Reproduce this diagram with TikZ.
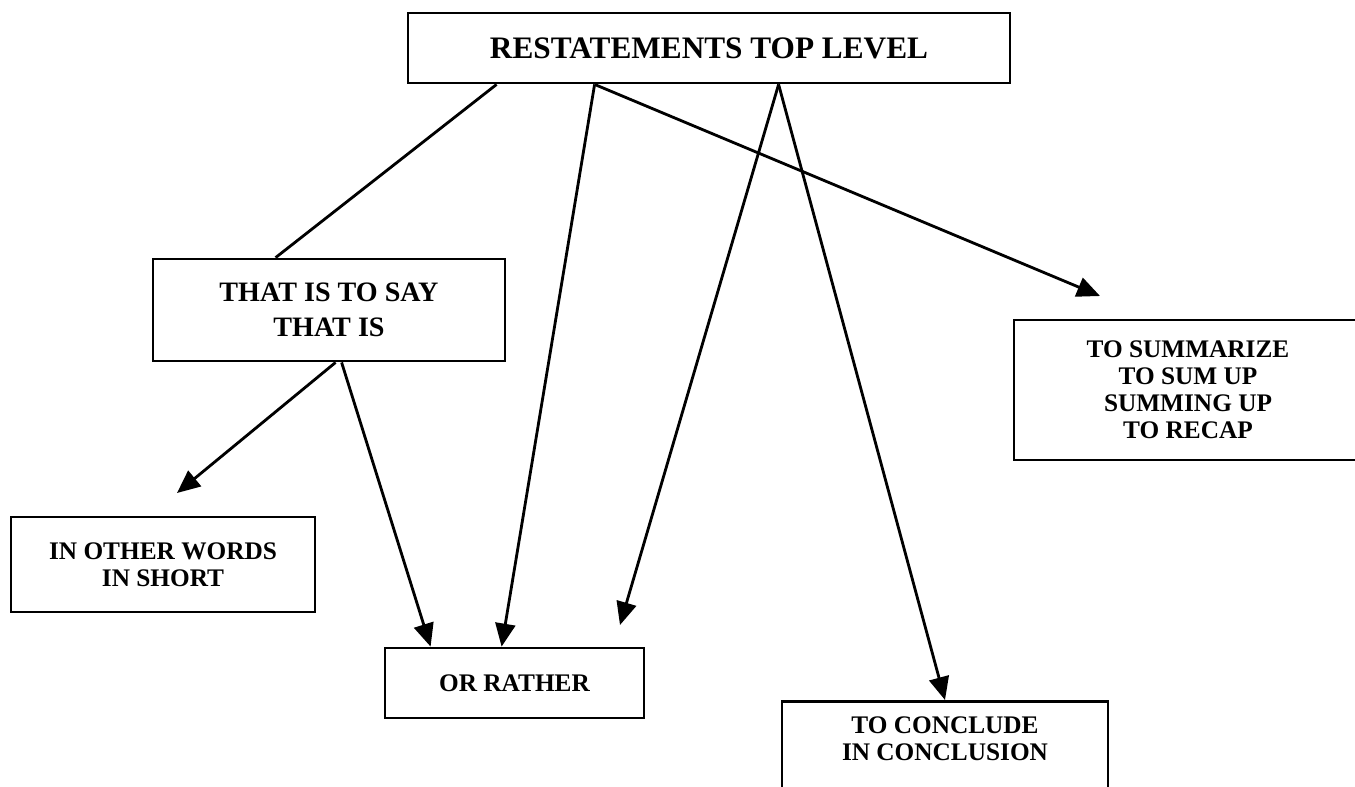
\documentclass[tikz,border=0pt]{standalone}
\usepackage{fontspec}
\setmainfont{Liberation Serif}
\usetikzlibrary{arrows.meta}
\tikzset{
  box/.style={
    rectangle, draw=black, line width=1.6pt, fill=white,
    align=center, inner sep=2pt, font=\bfseries
  },
  topbox/.style={box, font=\bfseries\fontsize{17.8}{21}\selectfont},
  midbox/.style={box, font=\bfseries\fontsize{16}{20}\selectfont},
  lowbox/.style={box, font=\bfseries\fontsize{14.4}{15.4}\selectfont},
  conn/.style={line width=1.6pt, draw=black},
  arrow/.style={conn, -{Triangle[length=4.6mm, width=4mm]}}
}
\begin{document}
\begin{tikzpicture}
  \useasboundingbox (0,0) rectangle (27.1,-15.72);

  \node[topbox, minimum width=12.04cm, minimum height=1.4cm] (top) at (14.18,-0.96) {RESTATEMENTS TOP LEVEL};
  \node[midbox, minimum width=7.04cm, minimum height=2.04cm] (thatis) at (6.58,-6.2) {THAT IS TO SAY\\THAT IS};
  \node[lowbox, minimum width=6.96cm, minimum height=2.8cm] (summ) at (23.76,-7.8) {TO SUMMARIZE\\TO SUM UP\\SUMMING UP\\TO RECAP};
  \node[lowbox, minimum width=6.08cm, minimum height=1.9cm] (other) at (3.26,-11.29) {IN OTHER WORDS\\IN SHORT};
  \node[lowbox, minimum width=5.18cm, minimum height=1.4cm] (rather) at (10.29,-13.66) {OR RATHER};
  \node[lowbox, minimum width=6.52cm, anchor=north, inner ysep=0.3cm, text depth=1.5cm] (concl) at (18.9,-14.0) {TO CONCLUDE\\IN CONCLUSION};

  % free ends of the arrows that stop short of a box
  \coordinate (sumtip) at (22.0,-5.92);
  \coordinate (rathertip) at (12.4,-12.5);
  \coordinate (othertip) at (3.54,-9.86);

  \draw[conn] ([xshift=1.8cm]top.south west) -- ([xshift=2.48cm]thatis.north west);
  \draw[arrow] ([xshift=3.76cm]top.south west) -- ([xshift=2.36cm]rather.north west);
  \draw[arrow] ([xshift=3.76cm]top.south west) -- (sumtip);
  \draw[arrow] ([xshift=7.44cm]top.south west) -- (rathertip);
  \draw[arrow] ([xshift=7.44cm]top.south west) -- (concl.north);
  \draw[arrow] ([xshift=3.68cm]thatis.south west) -- (othertip);
  \draw[arrow] ([xshift=3.8cm]thatis.south west) -- ([xshift=0.94cm]rather.north west);
\end{tikzpicture}
\end{document}
